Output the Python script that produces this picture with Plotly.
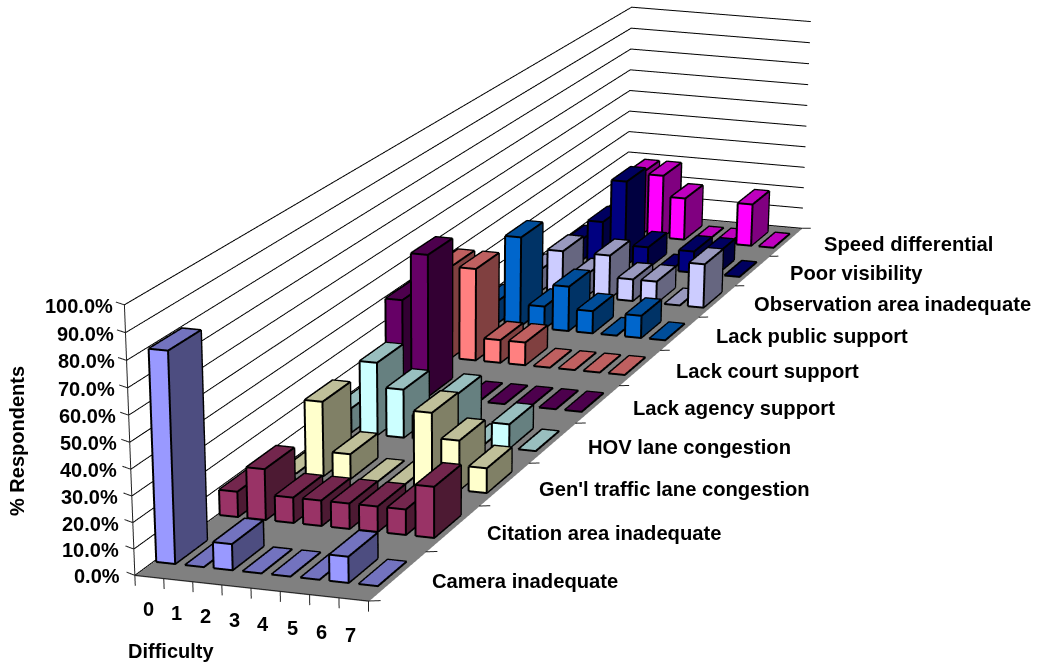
import numpy as np
import plotly.graph_objects as go

categories = ["0","1","2","3","4","5","6","7"]
series_names = ["Camera inadequate","Citation area inadequate","Gen'l traffic lane congestion","HOV lane congestion",
 "Lack agency support","Lack court support","Lack public support","Observation area inadequate","Poor visibility","Speed differential"]
camera_inadequate=[80,0,10,0,0,0,10,0]
citation_area=[10,20,10,10,10,10,10,20]
general_traffic=[0,30,10,0,0,30,20,10]
hov_lane=[10,30,20,10,20,0,10,0]
lack_agency=[40,60,0,0,0,0,0,0]
lack_court=[40,40,10,10,0,0,0,0]
lack_public=[10,40,10,20,10,0,10,0]
observation_area=[10,20,10,20,10,10,0,20]
poor_visibility=[10,20,40,10,0,10,10,0]
speed_differential=[0,30,30,20,0,0,20,0]
all_series=[camera_inadequate,citation_area,general_traffic,hov_lane,lack_agency,lack_court,lack_public,observation_area,poor_visibility,speed_differential]
front_colors=["#9999FF","#993366","#FFFFCC","#CCFFFF","#660066","#FF8080","#0066CC","#CCCCFF","#000080","#FF00FF"]
side_colors=["#4D4D80","#4D1A33","#808066","#668080","#330033","#804040","#003366","#666680","#000040","#800080"]
top_colors=["#7373BF","#73264D","#BFBF99","#99BFBF","#4D004D","#BF6060","#004D99","#9999BF","#000060","#BF00BF"]
z_ticks=[0,10,20,30,40,50,60,70,80,90,100]

XR=(-1.5,8.5);YR=(-1.5,10.5);ZR=(-10,110)
# camera calibrated against the reference's box corners
EYE=(4.6051,-15.4873,3.4643);CENTER=(1.9326,-4.0008,-3.7436);UP=(-0.7572,2.8313,1.0)
SX,SY=0.0974,0.5879
Hs,Ws=3500,1449

BW=0.66;X_SHIFT=-0.07;Y_FRONT=0.22;Y_BACK=0.28
OFF=(0.012,-0.006,0.12)   # nudges bar outlines off the faces, toward the camera
fig=go.Figure()
lit=dict(ambient=1,diffuse=0,specular=0,roughness=1,fresnel=0)
fig.add_trace(go.Mesh3d(x=[-.5,7.5,7.5,-.5],y=[-.5,-.5,9.5,9.5],z=[-.3]*4,i=[0,0],j=[1,2],k=[2,3],color="#808080",flatshading=True,lighting=lit,hoverinfo="skip"))
lx=[];ly=[];lz=[]
for t in z_ticks:
    lx+=[-.5,-.5,7.5,None];ly+=[-.5,9.5,9.5,None];lz+=[t,t,t,None]
fig.add_trace(go.Scatter3d(x=lx,y=ly,z=lz,mode="lines",line=dict(color="#000000",width=2),hoverinfo="skip",showlegend=False))
ax=[-.5,-.5,None,-.5,7.5,None];ay=[-.5,-.5,None,-.5,-.5,None];az=[0,100,None,0,0,None]
for t in z_ticks:
    ax+=[-.5,-.88,None];ay+=[-.5,-.46,None];az+=[t,t,None]
for i in range(9):
    ax+=[i-.5,i-.5,None];ay+=[-.5,-.5,None];az+=[0,-4,None]
for j in range(11):
    ax+=[7.5,7.85,None];ay+=[j-.5,j-.47,None];az+=[0,0,None]
fig.add_trace(go.Scatter3d(x=ax,y=ay,z=az,mode="lines",line=dict(color="#222222",width=2),hoverinfo="skip",showlegend=False))
for s,vals in enumerate(all_series):
    X=[];Y=[];Z=[];I=[];J=[];K=[];FC=[]
    ex=[];ey=[];ez=[]
    for i,v in enumerate(vals):
        x0,x1=i+X_SHIFT-BW/2,i+X_SHIFT+BW/2;y0,y1=s-Y_FRONT,s+Y_BACK
        h=float(v)
        n=len(X)
        X+=[x0,x1,x1,x0,x0,x1,x1,x0];Y+=[y0,y0,y1,y1,y0,y0,y1,y1];Z+=[0,0,0,0,h,h,h,h]
        tris=[(4,5,6,top_colors[s]),(4,6,7,top_colors[s])]
        if h>0:
            tris+=[(0,1,5,front_colors[s]),(0,5,4,front_colors[s]),(1,2,6,side_colors[s]),(1,6,5,side_colors[s])]
        for a,b,cc,col in tris:
            I.append(n+a);J.append(n+b);K.append(n+cc);FC.append(col)
        ex+=[x0,x1,x1,x0,x0,None];ey+=[y0,y0,y1,y1,y0,None];ez+=[h,h,h,h,h,None]
        if h>0:
            ex+=[x0,x0,None,x1,x1,None,x1,x1,None,x0,x1,x1,None]
            ey+=[y0,y0,None,y0,y0,None,y1,y1,None,y0,y0,y1,None]
            ez+=[0,h,None,0,h,None,0,h,None,0,0,0,None]
    fig.add_trace(go.Mesh3d(x=X,y=Y,z=Z,i=I,j=J,k=K,facecolor=FC,flatshading=True,lighting=lit,hoverinfo="skip"))
    ox=[None if a is None else a+OFF[0] for a in ex]
    oy=[None if a is None else a+OFF[1] for a in ey]
    oz=[None if a is None else a+OFF[2] for a in ez]
    fig.add_trace(go.Scatter3d(x=ox,y=oy,z=oz,mode="lines",line=dict(color="#000000",width=4),hoverinfo="skip",showlegend=False))

FONT="Liberation Sans, Arial, sans-serif"
ann=[]
for t in z_ticks:
    ann.append(dict(x=-.5,y=-.5,z=t,text="<b>%.1f%%</b>"%t,showarrow=False,xanchor="right",yanchor="middle",xshift=-13+.04*t,yshift=-1,font=dict(family=FONT,size=20,color="black")))
for i,c_ in enumerate(categories):
    ann.append(dict(x=i,y=-.5,z=0,text="<b>%s</b>"%c_,showarrow=False,xanchor="center",yanchor="middle",xshift=-1-.3*i,yshift=-32-.57*i,font=dict(family=FONT,size=20,color="black")))
for j,nm in enumerate(series_names):
    ann.append(dict(x=7.5,y=j,z=0,text="<b>%s</b>"%nm,showarrow=False,xanchor="left",yanchor="middle",xshift=32+j*.45,yshift=-5+j*.35,font=dict(family=FONT,size=20.2,color="black")))
noax=dict(visible=False,showspikes=False)
fig.update_layout(width=Ws,height=Hs,margin=dict(l=0,r=0,t=0,b=0),paper_bgcolor="white",showlegend=False,
  scene=dict(domain=dict(x=[0,1],y=[0,1]),
    xaxis=dict(range=list(XR),**noax),yaxis=dict(range=list(YR),**noax),zaxis=dict(range=list(ZR),**noax),
    aspectmode="manual",aspectratio=dict(x=SX*(XR[1]-XR[0]),y=SY*(YR[1]-YR[0]),z=1),
    camera=dict(eye=dict(x=EYE[0],y=EYE[1],z=EYE[2]),center=dict(x=CENTER[0],y=CENTER[1],z=CENTER[2]),up=dict(x=UP[0],y=UP[1],z=UP[2]),projection=dict(type="perspective")),
    annotations=ann),
  annotations=[
   dict(xref="paper",yref="paper",x=17/Ws,y=1-441/Hs,xanchor="center",yanchor="middle",text="<b>% Respondents</b>",textangle=-90,showarrow=False,font=dict(family=FONT,size=20,color="black")),
   dict(xref="paper",yref="paper",x=171/Ws,y=1-651/Hs,xanchor="center",yanchor="middle",text="<b>Difficulty</b>",showarrow=False,font=dict(family=FONT,size=20,color="black")),
  ])
fig.write_html("out.html",post_script="document.documentElement.style.overflow='hidden';document.body.style.overflow='hidden';document.body.style.margin='0';")
